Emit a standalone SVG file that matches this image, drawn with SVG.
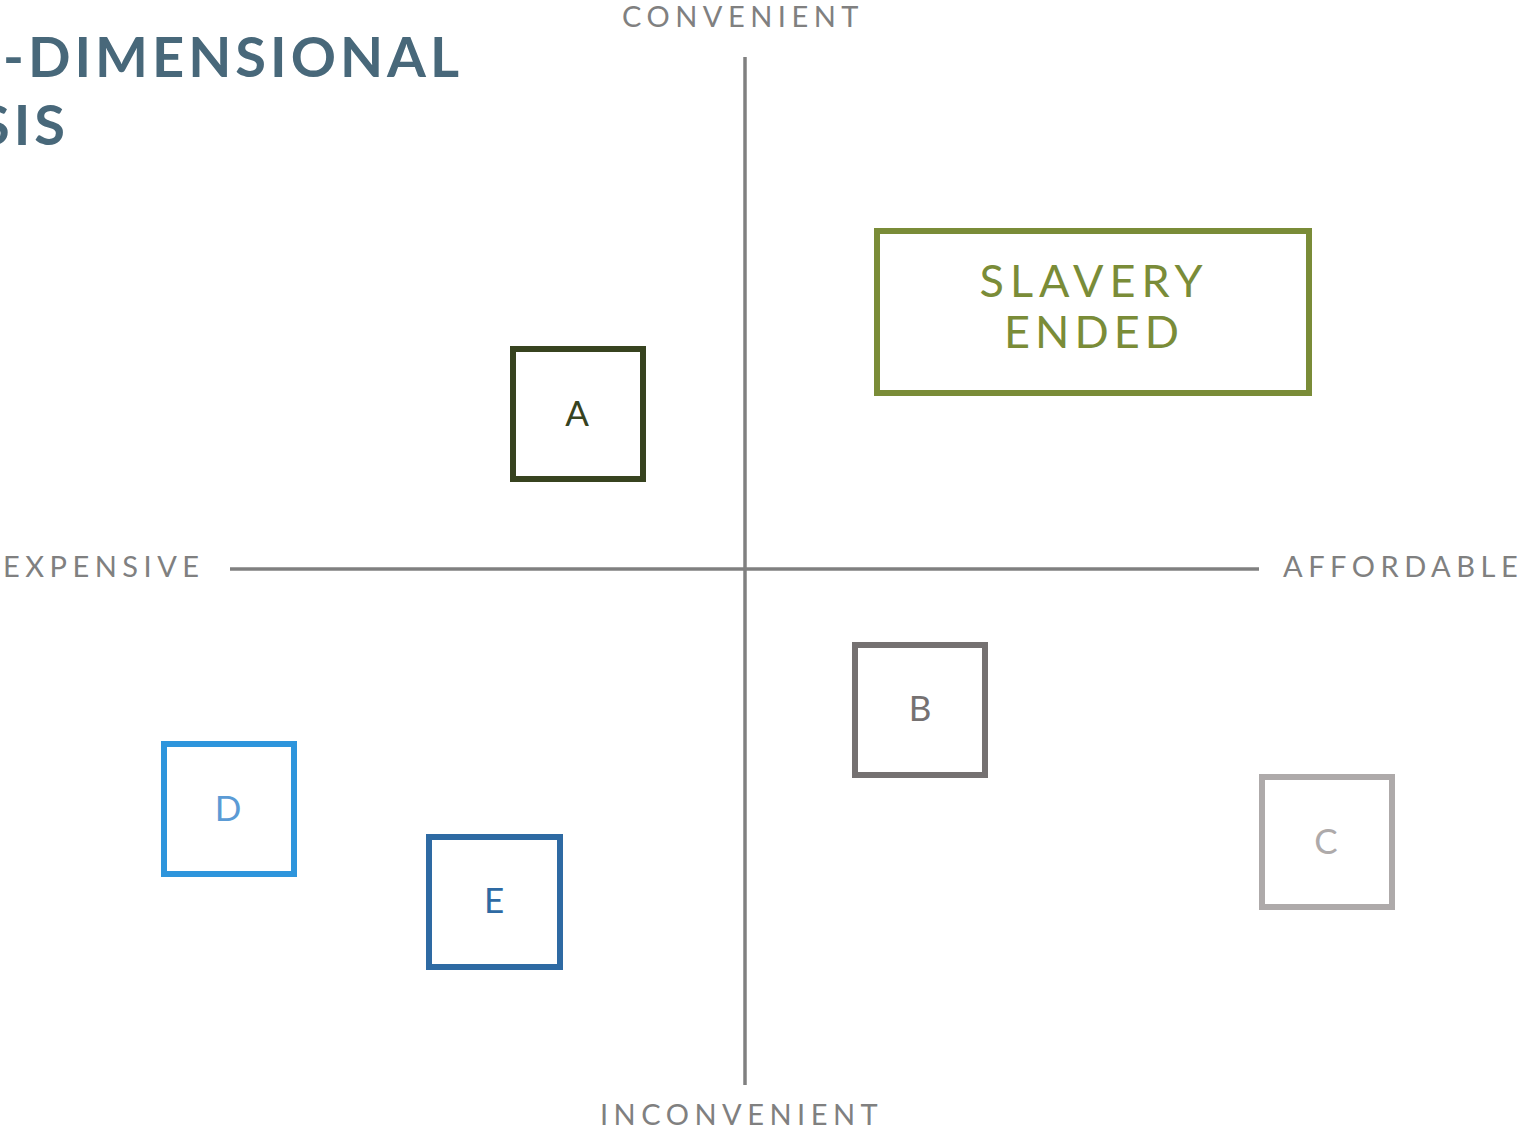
<svg xmlns="http://www.w3.org/2000/svg" width="1519" height="1131" viewBox="0 0 1519 1131">
<style>
text{font-family:Lato,"Open Sans","Liberation Sans",sans-serif}
.axis{font-size:29px;fill:#808080;letter-spacing:5.5px}
.title{font-size:56px;font-weight:bold;fill:#48687a;letter-spacing:4px}
.box{fill:#ffffff;stroke-width:6}
.lbl{font-size:35px;text-anchor:middle}
</style>
<rect width="1519" height="1131" fill="#ffffff"/>
<g id="title">
<text class="title" x="3" y="77">-DIMENSIONAL</text>
<text class="title" x="69" y="145" text-anchor="end">SIS</text>
</g>
<g id="connectors">
<line x1="745" y1="57" x2="745" y2="1085" stroke="#808080" stroke-width="3.5"/>
<line x1="230" y1="569" x2="1259" y2="569" stroke="#808080" stroke-width="3.5"/>
</g>
<g id="axis-labels">
<text class="axis" x="622" y="27">CONVENIENT</text>
<text class="axis" x="600" y="1125">INCONVENIENT</text>
<text class="axis" x="3" y="577">EXPENSIVE</text>
<text class="axis" x="1283" y="577">AFFORDABL<tspan letter-spacing="0">E</tspan></text>
</g>
<g id="slavery-ended">
<rect class="box" x="877" y="231" width="432" height="162" stroke="#7a8c38"/>
<text x="1094" y="297" font-size="45" fill="#7a8c38" text-anchor="middle" letter-spacing="6">SLAVERY</text>
<text x="1094" y="348" font-size="45" fill="#7a8c38" text-anchor="middle" letter-spacing="5">ENDED</text>
</g>
<g id="node-a">
<rect class="box" x="513" y="349" width="130" height="130" stroke="#37431f"/>
<text class="lbl" x="577" y="426" fill="#37431f">A</text>
</g>
<g id="node-b">
<rect class="box" x="855" y="645" width="130" height="130" stroke="#757171"/>
<text class="lbl" x="920" y="721" fill="#757171">B</text>
</g>
<g id="node-c">
<rect class="box" x="1262" y="777" width="130" height="130" stroke="#aeaaaa"/>
<text class="lbl" x="1326" y="854" fill="#aeaaaa">C</text>
</g>
<g id="node-d">
<rect class="box" x="164" y="744" width="130" height="130" stroke="#2e95dc"/>
<text class="lbl" x="228" y="821" fill="#5b9bd5">D</text>
</g>
<g id="node-e">
<rect class="box" x="429" y="837" width="131" height="130" stroke="#2e6aa3"/>
<text class="lbl" x="494" y="913" fill="#2e6aa3">E</text>
</g>
</svg>
